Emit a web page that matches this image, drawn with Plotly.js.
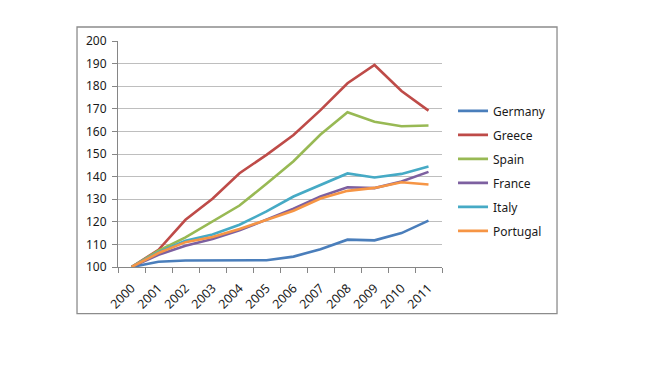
<!DOCTYPE html>
<html>
<head>
<meta charset="utf-8">
<script src="https://cdn.plot.ly/plotly-3.0.1.min.js"></script>
<style>html,body{margin:0;padding:0;background:#fff;}#chart{width:648px;height:372px;}</style>
</head>
<body>
<div id="chart"></div>
<script>
const years = ['2000','2001','2002','2003','2004','2005','2006','2007','2008','2009','2010','2011'];
const germany  = [100, 102.3, 102.9, 103.0, 103.2, 103.0, 104.6, 107.9, 112.1, 111.8, 115.0, 120.5];
const greece   = [100, 107.6, 120.9, 130.2, 141.5, 149.6, 158.4, 169.4, 181.3, 189.4, 177.9, 169.2];
const spain    = [100, 107.2, 113.1, 120.2, 127.2, 136.8, 146.8, 158.6, 168.5, 164.3, 162.3, 162.6];
const france   = [100, 105.4, 109.4, 112.4, 116.2, 121.1, 125.8, 131.2, 135.3, 134.9, 137.8, 142.1];
const italy    = [100, 106.6, 111.6, 114.4, 118.7, 124.6, 131.2, 136.4, 141.4, 139.6, 141.2, 144.5];
const portugal = [100, 106.2, 111.0, 113.3, 116.8, 121.0, 124.9, 130.3, 133.7, 135.0, 137.5, 136.5];
const seriesNames = ['Germany','Greece','Spain','France','Italy','Portugal'];
const seriesValues = [germany, greece, spain, france, italy, portugal];
const seriesColors = ['#4A7EBB','#BE4B48','#98B954','#7D60A0','#46AAC5','#F69545'];
const yTicks = [100,110,120,130,140,150,160,170,180,190,200];

const traces = seriesNames.map((n, i) => ({
  type: 'scatter', mode: 'lines', name: n, x: years, y: seriesValues[i],
  legendgroup: 'g' + i,
  line: {color: seriesColors[i], width: 2.6}
}));

const layout = {
  width: 648, height: 372,
  margin: {l: 118, r: 206, t: 41, b: 104.7, pad: 0},
  paper_bgcolor: '#ffffff', plot_bgcolor: '#ffffff',
  font: {family: 'Noto Sans, Liberation Sans, sans-serif', size: 12, color: '#1a1a1a'},
  showlegend: true,
  legend: {x: 1.034, y: 0.755, xanchor: 'left', yanchor: 'top', traceorder: 'grouped',
           tracegroupgap: 5, font: {size: 12, color: '#1a1a1a'}, bgcolor: 'rgba(0,0,0,0)'},
  xaxis: {type: 'category', range: [-0.5, 11.5], tickangle: -45, tickson: 'boundaries', ticks: 'outside', ticklen: 5,
          tickcolor: '#868686', showline: true, linecolor: '#868686', linewidth: 1,
          tickfont: {size: 12.5}, ticklabelstandoff: 8,
          showgrid: false, zeroline: false, fixedrange: true},
  yaxis: {range: [100, 200], tickvals: yTicks, ticktext: yTicks.map(String), ticks: 'outside', ticklen: 5,
          tickcolor: '#868686', showline: true, linecolor: '#868686', linewidth: 1,
          showgrid: true, gridcolor: '#BEBEBE', gridwidth: 1, zeroline: false,
          ticklabelstandoff: 3, fixedrange: true},
  shapes: [{type: 'rect', xref: 'paper', yref: 'paper', x0: -0.1265, x1: 1.355, y0: -0.206, y1: 1.062,
            line: {color: '#8C8C8C', width: 1.3}, fillcolor: 'rgba(0,0,0,0)', layer: 'below'}]
};

Plotly.newPlot('chart', traces, layout, {displayModeBar: false, staticPlot: true});
</script>
</body>
</html>
